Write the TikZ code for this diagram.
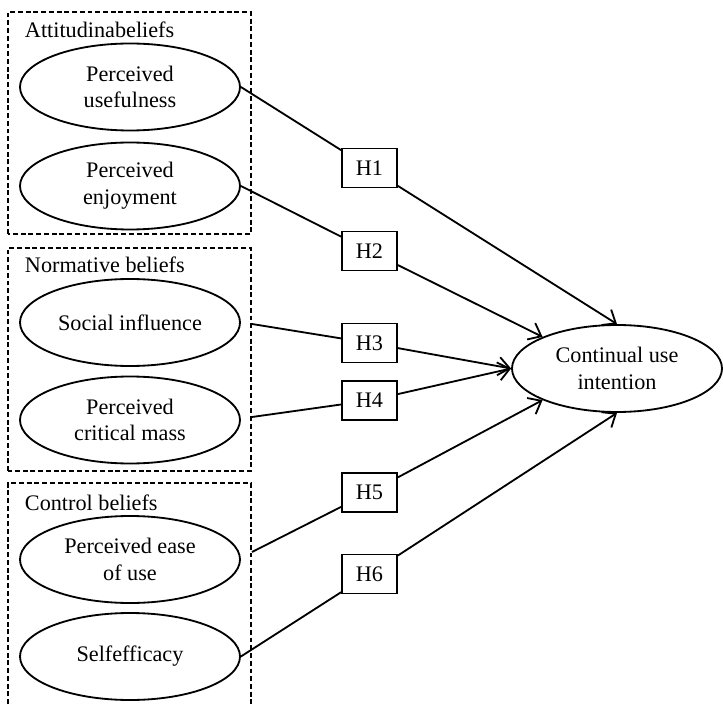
\documentclass[tikz,border=0pt]{standalone}
\usepackage{fontspec}
\setmainfont{Liberation Serif}
\usetikzlibrary{shapes.geometric,arrows.meta}

\begin{document}
\begin{tikzpicture}[
		font=\fontsize{15.8}{19}\selectfont,
		grp/.style={line width=1.3pt, dash pattern=on 3.5pt off 2pt},
		belief/.style={draw, line width=1.3pt, ellipse, minimum width=5.5cm, minimum height=2.175cm, inner sep=0pt, align=center},
		hyp/.style={draw, line width=1.3pt, minimum width=1.375cm, minimum height=0.975cm, inner sep=0pt},
		link/.style={line width=1.3pt},
		arr/.style={line width=1.3pt, -{Straight Barb[length=8pt,width=13pt,line width=1.3pt]}}
	]
	\useasboundingbox (0,0) rectangle (18.075,17.6);
	% groups of beliefs
	\draw [grp] (0.2,11.75) rectangle (6.275,17.3);
	\draw [grp] (0.2,5.825) rectangle (6.275,11.4);
	\draw [grp] (0.2,0) -- (0.2,5.525) -- (6.275,5.525) -- (6.275,0);
	\node [anchor=base west] (ttl1) at (0.5,16.65) {Attitudinabeliefs};
	\node [anchor=base west] (ttl2) at (0.5,10.775) {Normative beliefs};
	\node [anchor=base west] (ttl3) at (0.5,4.85) {Control beliefs};
	% beliefs
	\node [belief] (pu) at (3.25,15.425) {Perceived\\usefulness};
	\node [belief] (pe) at (3.25,12.95) {Perceived\\enjoyment};
	\node [belief] (si) at (3.25,9.5375) {Social influence};
	\node [belief] (pcm) at (3.25,7.1) {Perceived\\critical mass};
	\node [belief] (peu) at (3.25,3.6125) {Perceived ease\\of use};
	\node [belief] (se) at (3.25,1.1875) {Selfefficacy};
	% hypotheses
	\node [hyp] (h1) at (9.2375,13.4) {H1};
	\node [hyp] (h2) at (9.2375,11.325) {H2};
	\node [hyp] (h3) at (9.2375,9.025) {H3};
	\node [hyp] (h4) at (9.2375,7.5875) {H4};
	\node [hyp] (h5) at (9.2375,5.2875) {H5};
	\node [hyp] (h6) at (9.2375,3.25) {H6};
	% outcome
	\node [belief, minimum width=5.25cm] (cui) at (15.425,8.3875) {Continual use\\intention};
	\coordinate (s3) at (6.3,9.5);
	\coordinate (s4) at (6.3,7.175);
	\coordinate (s5) at (6.3,3.8);
	% paths
	\draw [link] (pu.east) -- (h1);
	\draw [link] (pe.east) -- (h2);
	\draw [link] (s3) -- (h3);
	\draw [link] (s4) -- (h4);
	\draw [link] (s5) -- (h5);
	\draw [link] (se.east) -- (h6);
	\draw [arr] (h1) -- (cui.north);
	\draw [arr] (h2) -- (cui.157);
	\draw [arr] (h3) -- (cui.west);
	\draw [arr] (h4) -- (cui.west);
	\draw [arr] (h5) -- (cui.203);
	\draw [arr] (h6) -- (cui.south);
\end{tikzpicture}
\end{document}
